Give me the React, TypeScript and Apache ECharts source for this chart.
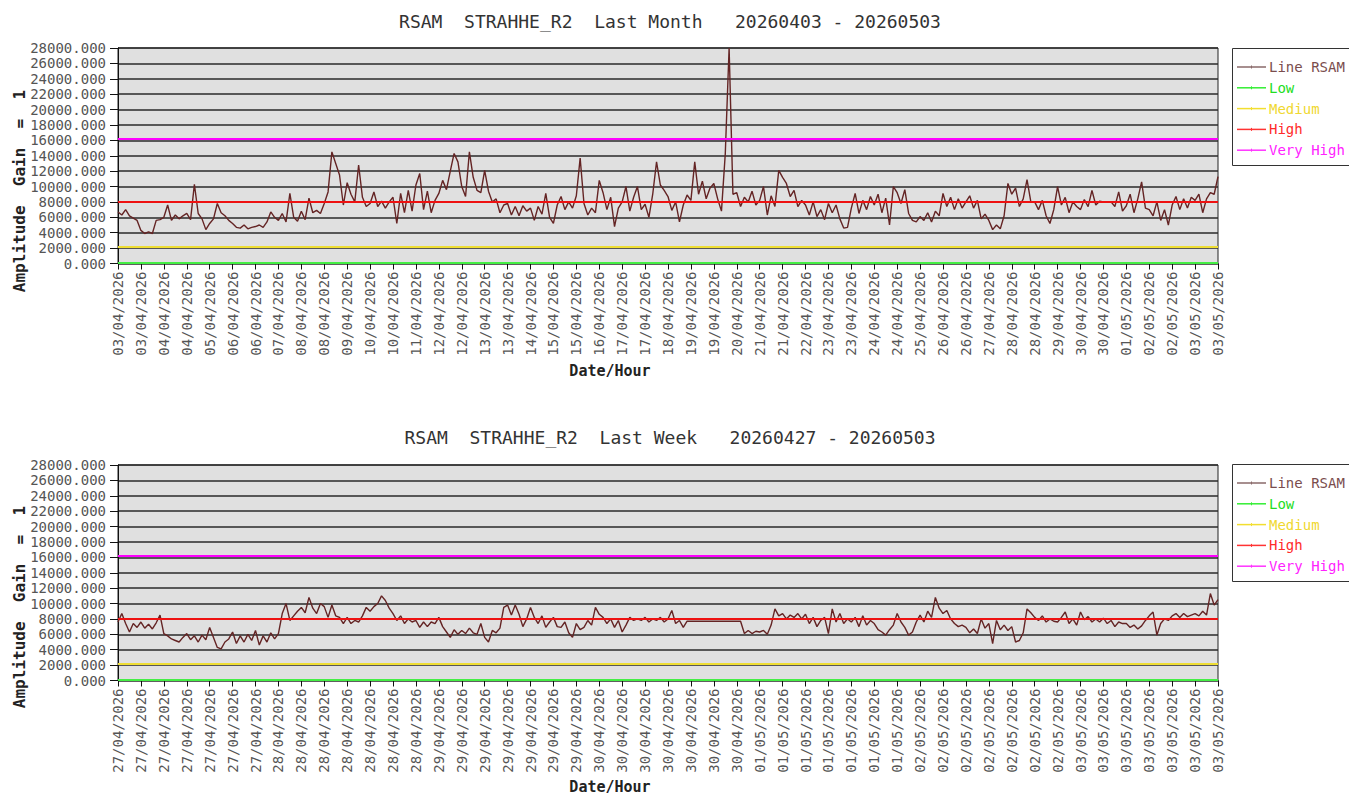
import React, { useEffect, useRef } from "react";
import * as echarts from "echarts";

// ---------- DATA ----------
const TOP_TITLE = "RSAM  STRAHHE_R2  Last Month   20260403 - 20260503";
const BOTTOM_TITLE = "RSAM  STRAHHE_R2  Last Week   20260427 - 20260503";

const TOP_TICK_LABELS = [
  "03/04/2026", "03/04/2026", "04/04/2026", "04/04/2026", "05/04/2026", "06/04/2026", "06/04/2026",
  "07/04/2026", "08/04/2026", "08/04/2026", "09/04/2026", "10/04/2026", "10/04/2026", "11/04/2026",
  "12/04/2026", "12/04/2026", "13/04/2026", "13/04/2026", "14/04/2026", "15/04/2026", "15/04/2026",
  "16/04/2026", "17/04/2026", "17/04/2026", "18/04/2026", "19/04/2026", "19/04/2026", "20/04/2026",
  "21/04/2026", "21/04/2026", "22/04/2026", "23/04/2026", "23/04/2026", "24/04/2026", "24/04/2026",
  "25/04/2026", "26/04/2026", "26/04/2026", "27/04/2026", "28/04/2026", "28/04/2026", "29/04/2026",
  "30/04/2026", "30/04/2026", "01/05/2026", "02/05/2026", "02/05/2026", "03/05/2026", "03/05/2026",
];

const BOTTOM_TICK_LABELS = [
  "27/04/2026", "27/04/2026", "27/04/2026", "27/04/2026", "27/04/2026", "27/04/2026", "27/04/2026",
  "28/04/2026", "28/04/2026", "28/04/2026", "28/04/2026", "28/04/2026", "28/04/2026", "28/04/2026",
  "29/04/2026", "29/04/2026", "29/04/2026", "29/04/2026", "29/04/2026", "29/04/2026", "29/04/2026",
  "30/04/2026", "30/04/2026", "30/04/2026", "30/04/2026", "30/04/2026", "30/04/2026", "30/04/2026",
  "01/05/2026", "01/05/2026", "01/05/2026", "01/05/2026", "01/05/2026", "01/05/2026", "01/05/2026",
  "02/05/2026", "02/05/2026", "02/05/2026", "02/05/2026", "02/05/2026", "02/05/2026", "02/05/2026",
  "03/05/2026", "03/05/2026", "03/05/2026", "03/05/2026", "03/05/2026", "03/05/2026", "03/05/2026",
];

// samples per tick interval
const SAMPLES_PER_TICK = 6;

// Last month RSAM (6 samples per tick interval, 48 intervals + final sample)
const TOP_RSAM = [
  6700, 6300, 7000, 6200, 5900, 5600,
  4300, 3900, 4100, 3900, 5600, 5700,
  6000, 7600, 5600, 6300, 5800, 6200,
  6500, 5700, 10300, 6500, 5800, 4400,
  5200, 5800, 7800, 6600, 6200, 5600,
  5200, 4700, 4600, 5000, 4500, 4700,
  4800, 5000, 4700, 5400, 6700, 6000,
  5600, 6500, 5400, 9100, 6000, 5500,
  6800, 5700, 8500, 6600, 6900, 6500,
  7800, 9300, 14500, 13000, 11500, 7600,
  10500, 9000, 8000, 12800, 8600, 7400,
  7800, 9300, 7400, 8100, 7200, 8000,
  8600, 5200, 9100, 6600, 9500, 6800,
  10200, 11700, 7000, 9400, 6600, 8200,
  9100, 10800, 9600, 12000, 14300, 13200,
  10000, 8700, 14500, 11200, 9500, 9200,
  12100, 9400, 8000, 8400, 6600, 7600,
  7800, 6300, 7400, 6200, 7500, 6800,
  7200, 5600, 7400, 6400, 9100, 6000,
  5200, 7600, 8700, 7000, 8000, 7200,
  8800, 13700, 7800, 6300, 7200, 6600,
  10800, 9200, 7000, 8600, 4800, 7200,
  8000, 10000, 6800, 8600, 10000, 7000,
  7700, 6000, 9000, 13200, 10200, 9500,
  8700, 6900, 8000, 5400, 7600, 8900,
  8200, 13200, 9000, 10700, 8400, 9800,
  10400, 8400, 6800, 14300, 28000, 9000,
  9200, 7400, 8600, 8000, 9400, 7600,
  8200, 10000, 6300, 8800, 7400, 12100,
  11200, 10400, 8700, 9500, 7400, 8200,
  7600, 6300, 8000, 6100, 7000, 5700,
  7800, 6600, 7600, 5800, 4600, 4700,
  7200, 9100, 6500, 8200, 7000, 8700,
  7600, 9000, 6600, 8500, 5000, 10000,
  9200, 7800, 9600, 6500, 5600, 5400,
  6100, 5600, 6600, 5400, 6800, 6200,
  9100, 7400, 8600, 7000, 8400, 7200,
  8000, 8800, 7200, 8200, 5800, 6400,
  5600, 4400, 5000, 4500, 6200, 10400,
  9000, 9800, 7400, 8400, 10900, 8000,
  8000, 7000, 8200, 6200, 5200, 7000,
  10000, 7600, 8600, 6600, 8000, 7400,
  7000, 8300, 7400, 9500, 7600, 8100,
  8000, 8000, 8000, 7400, 9300, 6800,
  7500, 9000, 6600, 8400, 10600, 7200,
  7000, 6200, 8000, 5600, 7000, 5000,
  7600, 8700, 7000, 8400, 7200, 8600,
  8200, 9000, 6600, 8400, 9200, 9000,
  11300,
];

// Last week RSAM
const BOTTOM_RSAM = [
  7600, 8700, 7400, 6300, 7400, 6900,
  7600, 6800, 7300, 6700, 7500, 8500,
  6100, 5800, 5400, 5200, 5000, 5600,
  6100, 5300, 5800, 5000, 5900, 5300,
  6900, 5600, 4300, 4100, 5000, 5400,
  6300, 4800, 5800, 5000, 6000, 5200,
  6500, 4600, 5800, 5000, 6200, 5400,
  6100, 8700, 10000, 7800, 8400, 9000,
  9500, 8800, 10800, 9400, 8700, 10000,
  9600, 8200, 9800, 8400, 8200, 7400,
  8200, 7400, 7800, 7600, 8400, 9500,
  9000, 9600, 10000, 11000, 10400, 9400,
  8700, 7800, 8400, 7400, 8000, 7600,
  7800, 6900, 7600, 7000, 7600, 7400,
  8200, 7000, 6300, 5600, 6600, 6000,
  6500, 6100, 6800, 6200, 6000, 7400,
  5600, 5000, 6500, 6200, 6800, 9500,
  9800, 8500, 9800, 8600, 7000, 8000,
  9500, 8200, 7400, 8400, 6900, 7600,
  8200, 7000, 6900, 7600, 6200, 5600,
  7400, 6600, 6900, 7800, 7200, 9500,
  8600, 8200, 7400, 8000, 6900, 7800,
  6300, 7200, 8200, 7800, 8000, 7800,
  8200, 7600, 8000, 7800, 8200, 7600,
  8000, 9100, 7400, 7800, 6900, 7700,
  7700, 7700, 7700, 7700, 7700, 7700,
  7700, 7700, 7700, 7700, 7700, 7700,
  7700, 7700, 6100, 6500, 6100, 6400,
  6300, 6500, 6000, 7200, 9300, 8400,
  8700, 8000, 8500, 8200, 8700, 8000,
  8600, 7400, 8200, 7000, 7800, 8200,
  6100, 9300, 7600, 8700, 7400, 8000,
  7600, 8200, 7000, 8400, 7200, 7800,
  7400, 6600, 6300, 5900, 6600, 7200,
  8700, 7600, 6900, 5900, 6300, 7600,
  8500, 7600, 9000, 8200, 10800, 9400,
  8700, 9100, 8000, 7400, 7000, 7200,
  6900, 6200, 6700, 6100, 8000, 6800,
  7400, 4800, 7800, 6600, 7200, 6500,
  7000, 5000, 5200, 6200, 9300, 8800,
  8200, 7800, 8400, 7600, 8000, 7700,
  7600, 8200, 8900, 7400, 8000, 7200,
  8900, 7900, 8300, 7600, 8000, 7600,
  8100, 7400, 7800, 7000, 7600, 7400,
  7400, 6900, 7200, 6700, 7100, 7800,
  8400, 8900, 5900, 7400, 8000, 7800,
  8400, 8700, 8200, 8700, 8300, 8500,
  8700, 8400, 9000, 8500, 11300, 9800,
  10500,
];

// thresholds
const LOW = 100;
const MEDIUM = 2200;
const HIGH = 8050;
const VERY_HIGH = 16150;

const Y_MIN = 0;
const Y_MAX = 28000;
const Y_INTERVAL = 2000;

const LEGEND_ITEMS = [
  { name: "Line RSAM", line: "#8a6a6a", text: "#7a4d4d" },
  { name: "Low", line: "#33ee33", text: "#22dd22" },
  { name: "Medium", line: "#f2de30", text: "#f0d830" },
  { name: "High", line: "#ff3333", text: "#ff2a2a" },
  { name: "Very High", line: "#ff33ff", text: "#ff22ff" },
];

// ---------- STYLE ----------
const MONO = "DejaVu Sans Mono";
const LINE_COLOR = "#642424";
const PLOT_BG = "#e0e0e0";

function buildPanel(
  gridIndex: number,
  top: number,
  values: number[],
  tickLabels: string[]
) {
  const cats = values.map((_, i) => String(i));
  const grid = {
    left: 118,
    top,
    width: 1100,
    height: 215.5,
    show: true,
    backgroundColor: PLOT_BG,
    borderColor: "#222",
    borderWidth: 1,
  };
  const xAxis = {
    gridIndex,
    type: "category",
    data: cats,
    boundaryGap: false,
    axisLine: { show: true, lineStyle: { color: "#111", width: 1 } },
    axisTick: {
      show: true,
      length: 6,
      interval: (i: number) => i % SAMPLES_PER_TICK === 0,
      lineStyle: { color: "#111" },
    },
    axisLabel: {
      show: true,
      rotate: 90,
      margin: 8,
      interval: (i: number) => i % SAMPLES_PER_TICK === 0,
      formatter: (_v: string, i: number) => tickLabels[Math.round(i / SAMPLES_PER_TICK)] ?? "",
      fontFamily: MONO,
      fontSize: 14,
      color: "#555",
    },
    splitLine: { show: false },
  };
  const yAxis = {
    gridIndex,
    type: "value",
    min: Y_MIN,
    max: Y_MAX,
    interval: Y_INTERVAL,
    axisLine: { show: true, lineStyle: { color: "#111" } },
    axisTick: { show: true, length: 8, lineStyle: { color: "#111" } },
    axisLabel: {
      margin: 12,
      formatter: (v: number) => v.toFixed(3),
      fontFamily: MONO,
      fontSize: 14,
      color: "#555",
    },
    splitLine: { show: true, lineStyle: { color: "#2a2a2a", width: 1.6 } },
  };
  const thresholds = [
    { v: VERY_HIGH, c: "#ff00ff" },
    { v: HIGH, c: "#ee1111" },
    { v: MEDIUM, c: "#eedd33" },
    { v: LOW, c: "#44ee44" },
  ];
  const series = [
    {
      type: "line",
      name: "Line RSAM",
      xAxisIndex: gridIndex,
      yAxisIndex: gridIndex,
      data: values,
      showSymbol: false,
      symbol: "none",
      clip: true,
      lineStyle: { color: LINE_COLOR, width: 1.4 },
      markLine: {
        silent: true,
        symbol: "none",
        label: { show: false },
        data: thresholds.map((t) => ({
          yAxis: t.v,
          lineStyle: { color: t.c, width: 2, type: "solid" },
        })),
      },
    },
  ];
  return { grid, xAxis, yAxis, series };
}

function buildGraphics(offsetY: number, title: string) {
  const g: any[] = [];
  g.push({
    type: "text",
    x: 670,
    y: 21 + offsetY,
    style: {
      text: title,
      font: `18px "${MONO}"`,
      fill: "#333",
      textAlign: "center",
      textVerticalAlign: "middle",
    },
  });
  g.push({
    type: "text",
    x: 19,
    y: 191 + offsetY,
    rotation: Math.PI / 2,
    style: {
      text: "Amplitude  Gain  =  1",
      font: `bold 16px "${MONO}"`,
      fill: "#222",
      textAlign: "center",
      textVerticalAlign: "middle",
    },
  });
  g.push({
    type: "text",
    x: 610,
    y: 371 + offsetY,
    style: {
      text: "Date/Hour",
      font: `bold 15px "${MONO}"`,
      fill: "#222",
      textAlign: "center",
      textVerticalAlign: "middle",
    },
  });
  // legend box
  g.push({
    type: "rect",
    shape: { x: 1232.5, y: 48.5 + offsetY, width: 140, height: 117 },
    style: { fill: "#fff", stroke: "#333", lineWidth: 1 },
  });
  LEGEND_ITEMS.forEach((it, k) => {
    const y = 67 + offsetY + k * 20.8;
    g.push({
      type: "line",
      shape: { x1: 1237, y1: y, x2: 1266, y2: y },
      style: { stroke: it.line, lineWidth: 1.5 },
    });
    g.push({
      type: "line",
      shape: { x1: 1251.5, y1: y - 1.5, x2: 1251.5, y2: y + 1.5 },
      style: { stroke: it.line, lineWidth: 1 },
    });
    g.push({
      type: "text",
      x: 1269,
      y,
      style: {
        text: it.name,
        font: `14px "${MONO}"`,
        fill: it.text,
        textAlign: "left",
        textVerticalAlign: "middle",
      },
    });
  });
  return g;
}

export default function App() {
  const ref = useRef<HTMLDivElement>(null);
  useEffect(() => {
    document.body.style.margin = "0";
    if (!ref.current) return;
    const chart = echarts.init(ref.current, undefined, { renderer: "svg" });
    const p1 = buildPanel(0, 48, TOP_RSAM, TOP_TICK_LABELS);
    const p2 = buildPanel(1, 465, BOTTOM_RSAM, BOTTOM_TICK_LABELS);
    chart.setOption({
      animation: false,
      backgroundColor: "#fff",
      grid: [p1.grid, p2.grid],
      xAxis: [p1.xAxis, p2.xAxis],
      yAxis: [p1.yAxis, p2.yAxis],
      series: [...p1.series, ...p2.series],
      graphic: [...buildGraphics(0, TOP_TITLE), ...buildGraphics(416, BOTTOM_TITLE)],
    });
    return () => chart.dispose();
  }, []);
  return <div ref={ref} style={{ width: 1349, height: 795 }} />;
}
